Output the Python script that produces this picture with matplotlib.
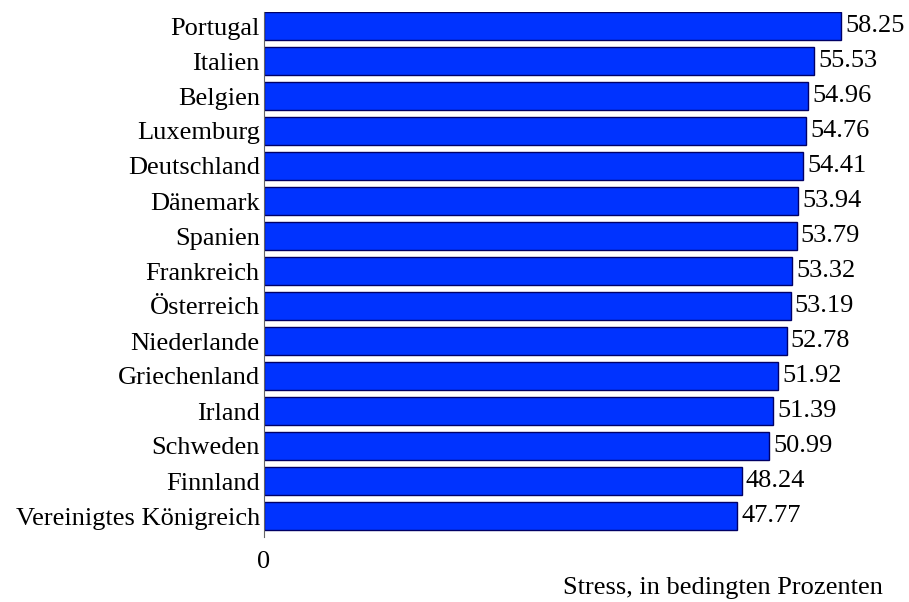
import numpy as np
import matplotlib.pyplot as plt

countries = ['Portugal', 'Italien', 'Belgien', 'Luxemburg', 'Deutschland', 'Dänemark',
             'Spanien', 'Frankreich', 'Österreich', 'Niederlande', 'Griechenland',
             'Irland', 'Schweden', 'Finnland', 'Vereinigtes Königreich']
stress = [58.25, 55.53, 54.96, 54.76, 54.41, 53.94, 53.79, 53.32, 53.19, 52.78,
          51.92, 51.39, 50.99, 48.24, 47.77]

plt.rcParams['font.family'] = ['Liberation Serif', 'DejaVu Serif']
fs = 19

fig = plt.figure(figsize=(9.09, 6.02), dpi=100)
ax = fig.add_axes([264 / 909, 65 / 602, (60 * 9.906) / 909, 525 / 602])

ind = np.arange(len(stress))
ax.barh(ind, stress, height=0.8, color='#0033ff', edgecolor='#000066', linewidth=1)

for i, v in enumerate(stress):
    ax.text(v + 0.4, i, '%.2f' % v, va='center', ha='left', fontsize=fs)

ax.set_ylim(14.6, -0.4)
ax.set_xlim(0, 60)
ax.set_yticks(ind)
ax.set_yticklabels(countries, fontsize=fs)
ax.set_xticks([0])
ax.set_xticklabels(['0'], fontsize=fs)
ax.tick_params(axis='both', length=0)
ax.tick_params(axis='y', pad=3)
ax.tick_params(axis='x', pad=10)
for s in ['top', 'right', 'bottom']:
    ax.spines[s].set_visible(False)
ax.spines['left'].set_color('#666666')

fig.text(883 / 909, 1 - 588 / 602, 'Stress, in bedingten Prozenten', ha='right', va='center', fontsize=fs)

fig.savefig('out.png', dpi=100)
